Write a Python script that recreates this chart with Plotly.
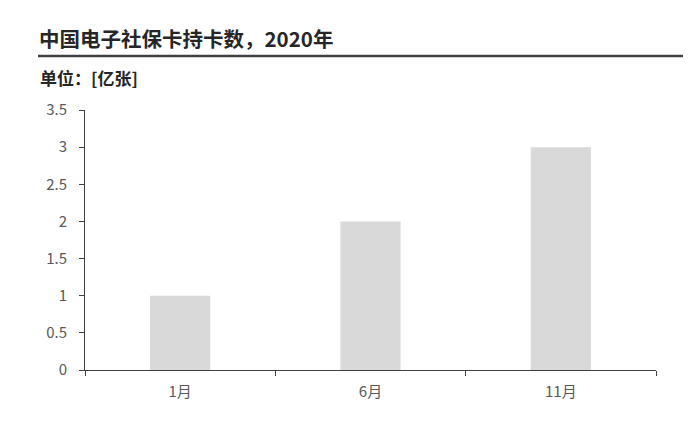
import plotly.graph_objects as go

# data
months = ["1月", "6月", "11月"]
cards = [1.0, 2.0, 3.0]  # 亿张

W, H = 700, 424
OFF = 8  # page body margin shifts the figure
# plot area in screen pixels: x 85..656, y 110..370
L, T = 85 - OFF, 110 - OFF
R = W - (656 - OFF)
B = H - (370 - OFF)
pw = W - L - R
ph = H - T - B


def px(x):
    return (x - OFF - L) / pw


def py(y):
    return (H - B - (y - OFF)) / ph


fig = go.Figure()
fig.add_trace(go.Bar(x=months, y=cards, marker_color="#D9D9D9",
                     marker_line_width=0, hoverinfo="x+y"))

cjk = "Noto Sans CJK SC"

fig.update_layout(
    width=W, height=H,
    margin=dict(l=L, r=R, t=T, b=B),
    paper_bgcolor="white", plot_bgcolor="white",
    bargap=0.684,
    showlegend=False,
    font=dict(family=cjk, color="#595959", size=13),
    annotations=[
        dict(text="<b>中国电子社保卡持卡数，2020年</b>", xref="paper", yref="paper",
             x=px(37), y=py(38), xanchor="left", yanchor="middle", showarrow=False,
             font=dict(family=cjk, size=20.5, color="#262626")),
        dict(text="<b>单位：[亿张]</b>", xref="paper", yref="paper",
             x=px(38), y=py(77), xanchor="left", yanchor="middle", showarrow=False,
             font=dict(family=cjk, size=17, color="#262626")),
    ],
    shapes=[
        dict(type="line", xref="paper", yref="paper",
             x0=px(38), x1=px(683), y0=py(56), y1=py(56),
             line=dict(color="#404040", width=2.5)),
    ],
)

fig.update_xaxes(
    showline=True, linecolor="#404040", linewidth=1,
    ticks="outside", tickson="boundaries", ticklen=5, tickcolor="#404040",
    showgrid=False, zeroline=False, automargin=False,
    ticklabelstandoff=8,
    tickfont=dict(size=15, color="#595959"),
)
fig.update_yaxes(
    range=[0, 3.5], dtick=0.5,
    showline=True, linecolor="#404040", linewidth=1,
    ticks="outside", ticklen=5, tickcolor="#404040",
    showgrid=False, zeroline=False, automargin=False,
    ticklabelstandoff=9,
    tickfont=dict(size=15, color="#595959"),
)

fig.write_html("out.html")
